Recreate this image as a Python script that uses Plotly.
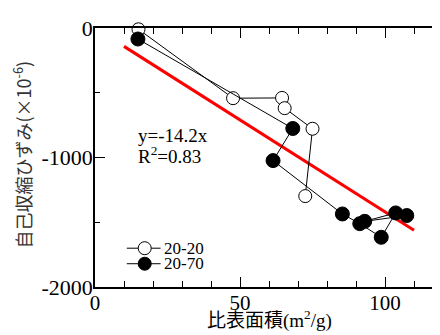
import plotly.graph_objects as go

# Data
open_x = [15.0, 47.6, 64.5, 65.4, 75.0, 72.5]
open_y = [-10, -542, -540, -619, -778, -1298]
filled_x = [14.8, 68.2, 61.4, 85.3, 91.3, 98.7, 103.7, 93.0, 107.5]
filled_y = [-85, -776, -1024, -1436, -1511, -1616, -1428, -1493, -1448]
fit_x = [10, 110]
fit_y = [-142, -1562]

x_tickvals = [0, 50, 100]
y_tickvals = [0, -1000, -2000]
series_names = ["20-20", "20-70"]

SERIF = "Liberation Serif"

# page offset compensation (browser body margin = 8px)
L, T, PW, PH = 87, 12, 350, 267


def px(x):  # page x -> paper
    return (x - 95) / PW


def py(y):  # page y -> paper
    return (287 - y) / PH


fig = go.Figure()
fig.add_trace(go.Scatter(x=fit_x, y=fit_y, mode="lines",
                         line=dict(color="#ff0000", width=3), showlegend=False))
fig.add_trace(go.Scatter(x=open_x, y=open_y, mode="lines+markers", name=series_names[0],
                         line=dict(color="black", width=1), cliponaxis=False, showlegend=False,
                         marker=dict(size=13, color="white", line=dict(color="black", width=1))))
fig.add_trace(go.Scatter(x=filled_x, y=filled_y, mode="lines+markers", name=series_names[1],
                         line=dict(color="black", width=1), cliponaxis=False, showlegend=False,
                         marker=dict(size=14, color="black", line=dict(color="black", width=1))))

shapes = []
annotations = []
# manual legend
for i, (nm, fill) in enumerate(zip(series_names, ["white", "black"])):
    yy = 247 + 16 * i
    shapes.append(dict(type="line", xref="paper", yref="paper", x0=px(127), x1=px(161),
                       y0=py(yy), y1=py(yy), line=dict(color="black", width=1)))
    shapes.append(dict(type="circle", xref="paper", yref="paper", xsizemode="pixel",
                       ysizemode="pixel", xanchor=px(145), yanchor=py(yy),
                       x0=-6.5, x1=6.5, y0=-6.5, y1=6.5, fillcolor=fill,
                       line=dict(color="black", width=1)))
    annotations.append(dict(text=nm, x=px(162), y=py(yy), xref="paper", yref="paper",
                            xanchor="left", yanchor="middle", showarrow=False,
                            font=dict(family=SERIF, size=17)))

annotations += [
    dict(text="y=-14.2x", x=px(136), y=py(131), xref="paper", yref="paper",
         xanchor="left", yanchor="middle", showarrow=False, font=dict(family=SERIF, size=19)),
    dict(text="R<sup>2</sup>=0.83", x=px(136), y=py(151), xref="paper", yref="paper",
         xanchor="left", yanchor="middle", showarrow=False, font=dict(family=SERIF, size=19)),
    dict(text="比表面積(m<sup>2</sup>/g)", x=px(270), y=py(321),
         xref="paper", yref="paper", xanchor="center", yanchor="middle", showarrow=False,
         font=dict(family="Liberation Serif, Noto Sans CJK JP", size=19)),
    dict(text="自己収縮ひずみ(×10<sup>-6</sup>)", x=px(22), y=py(150), textangle=-90,
         xref="paper", yref="paper", xanchor="center", yanchor="middle", showarrow=False,
         font=dict(family="Noto Sans CJK JP", size=18, color="#333")),
]

fig.update_layout(
    width=445, height=335,
    margin=dict(l=L, r=445 - L - PW, t=T, b=335 - T - PH),
    paper_bgcolor="white", plot_bgcolor="white",
    font=dict(family=SERIF, size=20, color="black"),
    showlegend=False,
    xaxis=dict(range=[0, 120], tickvals=x_tickvals, ticktext=[str(v) for v in x_tickvals],
               ticks="inside", ticklen=10, tickwidth=1, tickcolor="black",
               minor=dict(dtick=10, ticks="inside", ticklen=6, tickwidth=1, tickcolor="black"),
               showline=True, linecolor="black", linewidth=1.5, mirror="allticks",
               showgrid=False, zeroline=False, ticklabelstandoff=-4, ticklabeloverflow="allow",
               tickfont=dict(family=SERIF, size=21)),
    yaxis=dict(range=[-2000, 0], tickvals=y_tickvals, ticktext=[str(v) for v in y_tickvals],
               ticks="inside", ticklen=10, tickwidth=1, tickcolor="black",
               minor=dict(dtick=500, ticks="inside", ticklen=5, tickwidth=1, tickcolor="black"),
               showline=True, linecolor="black", linewidth=1.5, mirror="allticks",
               showgrid=False, zeroline=False, ticklabelstandoff=-4, ticklabeloverflow="allow",
               tickfont=dict(family=SERIF, size=22)),
    shapes=shapes,
    annotations=annotations,
)

fig.write_html("out.html")
